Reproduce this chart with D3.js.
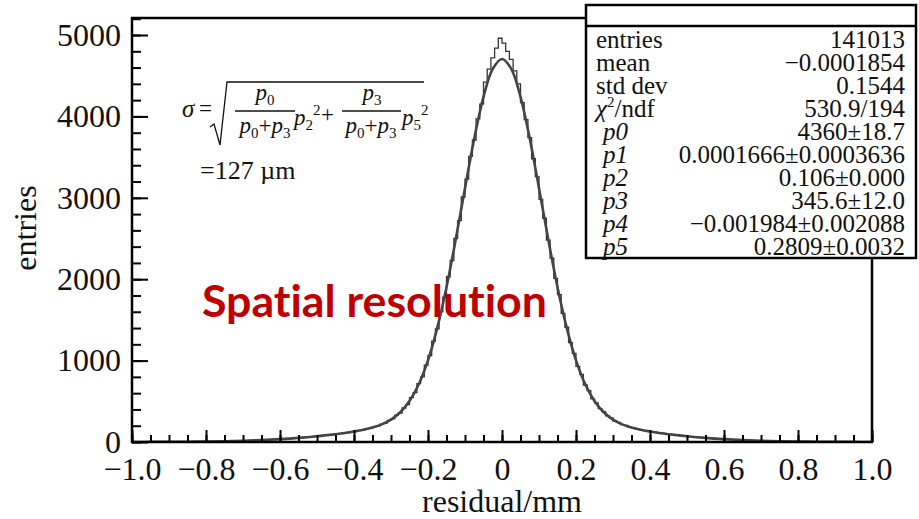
<!DOCTYPE html>
<html>
<head>
<meta charset="utf-8">
<script src="https://cdn.jsdelivr.net/npm/d3@7"></script>
<style>
  body { margin: 0; background: #fff; }
  text { font-family: "Liberation Serif", "Times New Roman", serif; }
</style>
</head>
<body>
<div class="container"></div>
<script>
// residual histogram, 200 bins from -1 to 1
const counts = [
    1, 1, 0, 1, 1, 1, 2, 1, 2, 2,
    2, 3, 2, 3, 3, 4, 4, 5, 5, 6,
    6, 7, 8, 8, 10, 10, 12, 12, 14, 15,
    16, 18, 19, 21, 22, 25, 26, 29, 31, 34,
    36, 40, 42, 46, 48, 53, 55, 61, 63, 70,
    72, 79, 82, 89, 92, 100, 104, 112, 117, 126,
    131, 143, 148, 162, 168, 186, 196, 220, 232, 265,
    284, 330, 356, 418, 460, 545, 606, 718, 800, 945,
    1060, 1240, 1390, 1600, 1780, 2030, 2230, 2500, 2720, 3010,
    3230, 3510, 3710, 3970, 4150, 4420, 4580, 4720, 4840, 4960,
    4900, 4800, 4700, 4560, 4400, 4170, 3960, 3740, 3480, 3260,
    2980, 2750, 2480, 2260, 2010, 1810, 1580, 1410, 1220, 1090,
    930, 830, 700, 630, 530, 480, 410, 372, 320, 296,
    258, 242, 214, 204, 180, 174, 158, 153, 139, 135,
    122, 120, 108, 106, 97, 94, 86, 84, 76, 74,
    67, 65, 58, 57, 51, 50, 44, 43, 38, 37,
    33, 32, 28, 27, 24, 23, 20, 19, 17, 16,
    14, 14, 12, 11, 10, 9, 8, 8, 7, 6,
    6, 5, 5, 4, 4, 3, 3, 3, 2, 2,
    2, 2, 1, 1, 1, 1, 1, 1, 0, 1
]

// fit curve read at these residuals
const fitX = [-1, -0.95, -0.9, -0.85, -0.8, -0.75, -0.7, -0.65, -0.6, -0.55, -0.5,
    -0.475, -0.45, -0.425, -0.4, -0.375, -0.35, -0.325, -0.3, -0.275, -0.25,
    -0.225, -0.2, -0.175, -0.15, -0.125, -0.1, -0.075, -0.05, -0.025, 0,
    0.025, 0.05, 0.075, 0.1, 0.125, 0.15, 0.175, 0.2, 0.225, 0.25,
    0.275, 0.3, 0.325, 0.35, 0.375, 0.4, 0.425, 0.45, 0.475, 0.5,
    0.55, 0.6, 0.65, 0.7, 0.75, 0.8, 0.85, 0.9, 0.95, 1]
const fitY = [0.6, 1.1, 2, 3.5, 6, 9.8, 15.5, 23.8, 35.3, 50.8, 70.9,
    83, 96, 111, 129, 150, 178, 217, 275, 365, 503,
    709, 1003, 1402, 1902, 2490, 3118, 3729, 4241, 4584, 4706,
    4584, 4241, 3729, 3118, 2490, 1902, 1402, 1003, 709, 503,
    365, 275, 217, 178, 150, 129, 111, 96, 83, 70.9,
    50.8, 35.3, 23.8, 15.5, 9.8, 6, 3.5, 2, 1.1, 0.6]

const xTicks = [-1, -0.8, -0.6, -0.4, -0.2, 0, 0.2, 0.4, 0.6, 0.8, 1]
const xTickLabels = ["−1.0", "−0.8", "−0.6", "−0.4", "−0.2", "0", "0.2", "0.4", "0.6", "0.8", "1.0"]
const yTicks = [0, 1000, 2000, 3000, 4000, 5000]

const statLabels = ["entries", "mean", "std dev", "chi", "p0", "p1", "p2", "p3", "p4", "p5"]
const statValues = ["141013", "−0.0001854", "0.1544", "530.9/194", "4360±18.7",
    "0.0001666±0.0003636", "0.106±0.000", "345.6±12.0", "−0.001984±0.002088", "0.2809±0.0032"]

const size = {WIDTH: 919, HEIGHT: 519}
const frame = {left: 132, right: 872, top: 18, bottom: 442}

const svg = d3.select(".container")
              .append("svg")
              .attr("width", size.WIDTH)
              .attr("height", size.HEIGHT)

svg.append("rect")
   .attr("width", size.WIDTH)
   .attr("height", size.HEIGHT)
   .attr("fill", "white")

const x = d3.scaleLinear().domain([-1, 1]).range([frame.left, frame.right])
const y = d3.scaleLinear().domain([0, 5209]).range([frame.bottom, frame.top])

svg.append("clipPath")
   .attr("id", "plot")
   .append("rect")
   .attr("x", frame.left)
   .attr("y", frame.top)
   .attr("width", frame.right - frame.left)
   .attr("height", frame.bottom - frame.top)

const plot = svg.append("g").attr("clip-path", "url(#plot)")

// histogram as steps
const bw = 2 / counts.length
const pasos = counts.map((c, i) => [-1 + i * bw, c])
pasos.push([1, counts[counts.length - 1]])

const escalera = d3.line()
                   .x((d) => x(d[0]))
                   .y((d) => y(d[1]))
                   .curve(d3.curveStepAfter)

plot.append("path")
    .attr("d", escalera(pasos))
    .attr("fill", "none")
    .attr("stroke", "#333")
    .attr("stroke-width", 1.3)

const curva = d3.line()
                .x((d) => x(d[0]))
                .y((d) => y(d[1]))
                .curve(d3.curveCatmullRom)

plot.append("path")
    .attr("d", curva(fitX.map((v, i) => [v, fitY[i]])))
    .attr("fill", "none")
    .attr("stroke", "#444")
    .attr("stroke-width", 2.6)

// axes, ticks pointing inward like ROOT
svg.append("g")
   .attr("transform", `translate(0 ${frame.bottom})`)
   .call(d3.axisBottom(x).tickValues(d3.range(-1, 1.001, 0.05)).tickSize(-7).tickFormat(""))
svg.append("g")
   .attr("transform", `translate(0 ${frame.bottom})`)
   .call(d3.axisBottom(x).tickValues(xTicks).tickSize(-12).tickPadding(15)
         .tickFormat((d, i) => xTickLabels[i]))
svg.append("g")
   .attr("transform", `translate(${frame.left} 0)`)
   .call(d3.axisLeft(y).tickValues(d3.range(0, 5201, 200)).tickSize(-9).tickFormat(""))
svg.append("g")
   .attr("transform", `translate(${frame.left} 0)`)
   .call(d3.axisLeft(y).tickValues(yTicks).tickSize(-16).tickPadding(11).tickFormat(d3.format("d")))

svg.selectAll(".domain").remove()
svg.selectAll(".tick line").attr("stroke", "black").attr("stroke-width", 2)
svg.selectAll(".tick text")
   .attr("font-family", "Liberation Serif")
   .attr("font-size", 32)
   .attr("fill", "#111")

svg.append("rect")
   .attr("x", frame.left)
   .attr("y", frame.top)
   .attr("width", frame.right - frame.left)
   .attr("height", frame.bottom - frame.top)
   .attr("fill", "none")
   .attr("stroke", "black")
   .attr("stroke-width", 2.5)

svg.append("text")
   .text("residual/mm")
   .attr("x", x(0))
   .attr("y", 512)
   .attr("text-anchor", "middle")
   .attr("font-size", 32)
   .attr("fill", "#111")

svg.append("text")
   .text("entries")
   .attr("transform", "translate(36 228) rotate(-90)")
   .attr("text-anchor", "middle")
   .attr("font-size", 32)
   .attr("fill", "#111")

// formula
const formula = svg.append("g").attr("font-size", 23).attr("fill", "#111")

const pTerm = (px, py, sub, sup, anchor) => {
    const t = formula.append("text")
                     .attr("x", px)
                     .attr("y", py)
                     .attr("text-anchor", anchor || "start")
    t.append("tspan").attr("font-style", "italic").text("p")
    t.append("tspan").attr("font-size", 15).attr("dy", 5).text(sub)
    if (sup) {
        t.append("tspan").attr("font-size", 15).attr("dy", -15).text(sup)
    }
    return t
}
const denom = (cx, py) => {
    const t = formula.append("text")
                     .attr("x", cx)
                     .attr("y", py)
                     .attr("text-anchor", "middle")
    t.append("tspan").attr("font-style", "italic").text("p")
    t.append("tspan").attr("font-size", 15).attr("dy", 5).text("0")
    t.append("tspan").attr("dy", -5).text("+")
    t.append("tspan").attr("font-style", "italic").text("p")
    t.append("tspan").attr("font-size", 15).attr("dy", 5).text("3")
}

formula.append("text").attr("x", 182).attr("y", 117).attr("font-size", 25).attr("font-style", "italic").text("σ")
formula.append("text").attr("x", 199).attr("y", 116).text("=")
formula.append("path")
       .attr("d", "M210,127 L214,124 L220,145 L227,82 L424,82")
       .attr("fill", "none")
       .attr("stroke", "#111")
       .attr("stroke-width", 1.3)

pTerm(265, 100, "0", null, "middle")
formula.append("line").attr("x1", 235).attr("x2", 295).attr("y1", 111).attr("y2", 111)
       .attr("stroke", "#111").attr("stroke-width", 1.3)
denom(265, 133)
pTerm(294, 125, "2", "2")
formula.append("text").attr("x", 321).attr("y", 122).text("+")

pTerm(372, 100, "3", null, "middle")
formula.append("line").attr("x1", 342).attr("x2", 401).attr("y1", 111).attr("y2", 111)
       .attr("stroke", "#111").attr("stroke-width", 1.3)
denom(371, 133)
pTerm(402, 125, "5", "2")

formula.append("text").attr("x", 200).attr("y", 179).attr("font-size", 26).text("=127 µm")

// red label
svg.append("text")
   .text("Spatial resolution")
   .attr("x", 202)
   .attr("y", 317)
   .attr("font-weight", "bold")
   .attr("font-size", 44)
   .attr("textLength", 345)
   .attr("lengthAdjust", "spacingAndGlyphs")
   .style("font-family", "Lato, 'Open Sans', sans-serif")
   .style("font-variant-ligatures", "none")
   .attr("fill", "#C00000")

// stats box
const caja = svg.append("g")
caja.append("rect")
    .attr("x", 586)
    .attr("y", 5)
    .attr("width", 330)
    .attr("height", 253)
    .attr("fill", "white")
    .attr("stroke", "black")
    .attr("stroke-width", 2.5)
caja.append("line")
    .attr("x1", 586).attr("x2", 916)
    .attr("y1", 26).attr("y2", 26)
    .attr("stroke", "black")
    .attr("stroke-width", 2.5)

statLabels.forEach((lab, i) => {
    const yy = 48 + i * 23
    const t = caja.append("text")
                  .attr("y", yy)
                  .attr("font-size", 25)
                  .attr("fill", "#111")
    if (lab === "chi") {
        t.attr("x", 596)
        t.append("tspan").attr("font-style", "italic").text("χ")
        t.append("tspan").attr("font-size", 15).attr("dy", -10).text("2")
        t.append("tspan").attr("dy", 10).text("/ndf")
    } else if (lab[0] === "p") {
        t.attr("x", 603).attr("font-style", "italic").text(lab)
    } else {
        t.attr("x", 596).text(lab)
    }
    caja.append("text")
        .text(statValues[i])
        .attr("x", 905)
        .attr("y", yy)
        .attr("text-anchor", "end")
        .attr("font-size", 25)
        .attr("fill", "#111")
})
</script>
</body>
</html>
